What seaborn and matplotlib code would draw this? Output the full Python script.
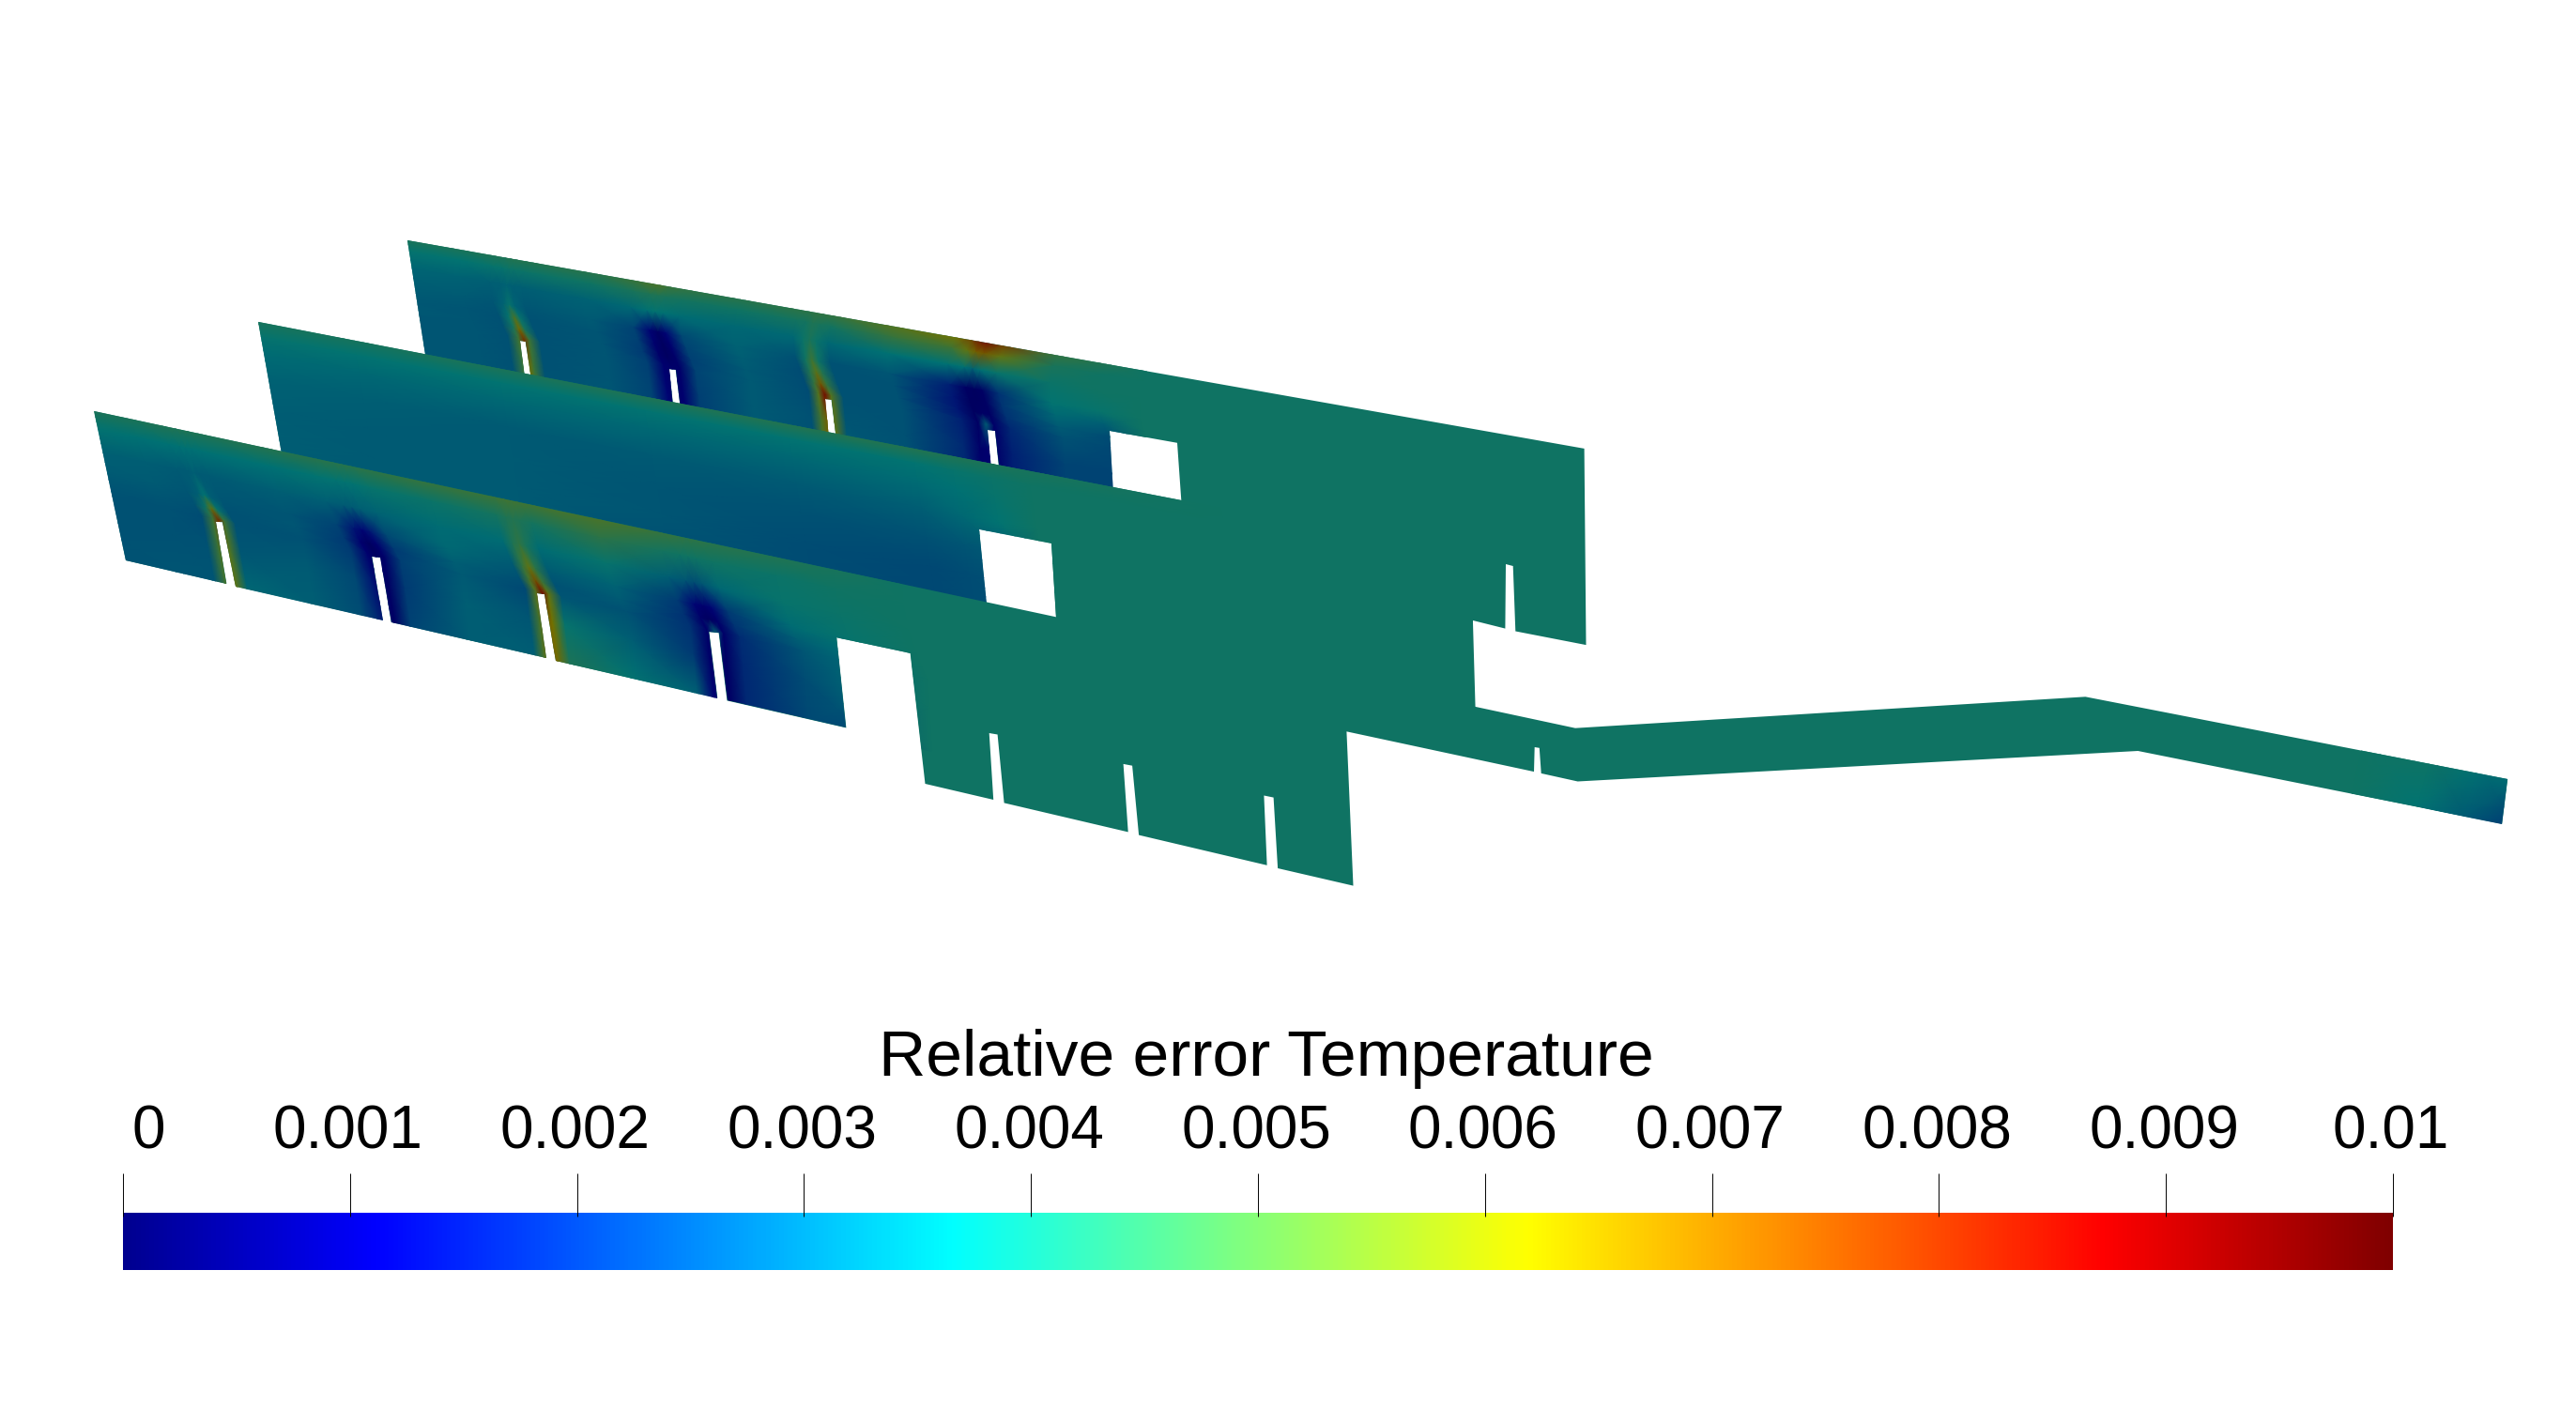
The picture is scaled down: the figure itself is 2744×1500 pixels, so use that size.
import numpy as np
import matplotlib
matplotlib.use("Agg")
import matplotlib.pyplot as plt
import seaborn as sns
from matplotlib.colors import LinearSegmentedColormap, Normalize
from matplotlib.path import Path

sns.set_theme(style="white")

W, H = 2744, 1500
VMIN, VMAX = 0.0, 0.01
BASE_VALUE = 0.0040
SHADE = 0.45

tick_values = [0, 0.001, 0.002, 0.003, 0.004, 0.005, 0.006, 0.007, 0.008, 0.009, 0.01]
tick_labels = ["0", "0.001", "0.002", "0.003", "0.004", "0.005", "0.006", "0.007", "0.008", "0.009", "0.01"]
bar_title = "Relative error Temperature"

# colour stops of the scale
stop_pos = [0, 0.111, 0.365, 0.492, 0.619, 0.873, 1]
stop_rgb = [(0, 0, 0.5625), (0, 0, 1), (0, 1, 1), (0.5, 1, 0.5), (1, 1, 0), (1, 0, 0), (0.5, 0, 0)]

# plate outlines, in picture pixels
front_outline = [(100.4, 438), (1678, 775.7), (2221.4, 742.3), (2671.2, 830), (2665.2, 877.7), (2277.4, 800),
                 (1680.6, 832.5), (1641.7, 823.9), (1639.8, 796.8), (1634.7, 796), (1634, 822.1), (1434.4, 779.3),
                 (1441.5, 943.6), (1361.1, 925), (1356.6, 849.6), (1346.4, 847.5), (1349.6, 921.8), (1213.1, 889.6),
                 (1206.1, 815.7), (1196.6, 813.9), (1201.7, 886.4), (1069.6, 855.4), (1062.6, 782.5), (1053.7, 781),
                 (1058.2, 852), (985.5, 835), (969.6, 695.7), (891.2, 679.3), (901.4, 775.4), (774.5, 746.4),
                 (765.6, 674.3), (755.4, 673.2), (764.3, 743.6), (592, 704), (580, 633.2), (571.7, 632), (581.9, 701),
                 (416.7, 662.9), (405.3, 593.9), (396.3, 592.9), (407.8, 660.7), (251, 624.6), (236.9, 556.4),
                 (229.9, 555.7), (241.4, 621.8), (134, 597)]
middle_outline = [(275.2, 342.9), (1569, 593), (1569, 663.6), (1571.6, 754), (1125.1, 659), (1120, 578.6),
                  (1042.9, 563.6), (1050.5, 643), (300, 483)]
back_outline = [(434, 256), (1687.6, 477.9), (1689.5, 687.1), (1614.3, 672.5), (1611.7, 603), (1604, 601),
                (1603.4, 669.6), (1569, 661), (1258.8, 540), (1254, 471.8), (1181.9, 458.9), (1185.5, 527),
                (1064.5, 503), (1060, 458.9), (1051.8, 457.9), (1055.6, 500), (891, 469), (885.5, 425.7),
                (878.5, 425), (883, 467), (725, 436), (719.7, 393.9), (712.7, 393.2), (717.4, 434),
                (566.3, 405), (559.6, 363.6), (553.9, 363.2), (559.4, 404), (454, 384)]

# corners of each value grid: top left, top right, bottom left, bottom right
front_quad = [(100, 438), (1000, 631), (134, 597), (1010, 801)]
middle_quad = [(275, 343), (1300, 541), (300, 500), (1325, 700)]
back_quad = [(434, 256), (1300, 409), (460, 406), (1306, 566)]

front_u = [-.05, .07, .108, .121, .128, .135, .148, .23, .287, .307, .317, .327, .347, .42, .497, .509, .517, .525,
           .54, .62, .695, .715, .725, .735, .755, .83, .90, .98]
front_v = [-.01, .12, .28, .42, .5, .57, .75, 1.02]
front_bend = [-.024, -.024, -.02, -.012, -.006, 0, 0, 0]
front_values = [
    [.0042, .0043, .0044, .0044, .0044, .0044, .0044, .0045, .0046, .0046, .0046, .0046, .0047, .0049, .0050, .0051, .0051, .0051, .0051, .0053, .0049, .0048, .0047, .0047, .0046, .0044, .0042, .0040],
    [.0038, .0036, .0036, .0036, .0036, .0036, .0036, .0036, .0037, .0037, .0037, .0037, .0038, .0039, .0041, .0043, .0044, .0043, .0041, .0046, .0041, .0040, .0040, .0040, .0040, .0039, .0040, .0040],
    [.0033, .0032, .0031, .0031, .0032, .0031, .0031, .0032, .0032, .0031, .0031, .0032, .0033, .0035, .0035, .0043, .0047, .0042, .0035, .0038, .0032, .0030, .0028, .0030, .0034, .0038, .0039, .0040],
    [.0031, .0031, .0030, .0032, .0037, .0032, .0030, .0030, .0026, .0016, .0012, .0016, .0027, .0034, .0031, .0048, .0058, .0046, .0031, .0033, .0024, .0012, .0010, .0012, .0024, .0035, .0038, .0040],
    [.0030, .0030, .0029, .0040, .0058, .0038, .0029, .0030, .0024, .0010, .0007, .0010, .0024, .0032, .0029, .0052, .0070, .0050, .0029, .0031, .0022, .0009, .0007, .0009, .0023, .0032, .0036, .0040],
    [.0029, .0029, .0028, .0050, .0078, .0050, .0029, .0029, .0024, .0010, .0007, .0009, .0025, .0031, .0027, .0055, .0085, .0058, .0030, .0029, .0022, .0009, .0032, .0009, .0021, .0030, .0035, .0040],
    [.0029, .0029, .0029, .0050, .0066, .0054, .0030, .0031, .0027, .0016, .0009, .0008, .0024, .0032, .0030, .0052, .0068, .0062, .0038, .0032, .0024, .0009, .0009, .0008, .0020, .0028, .0034, .0040],
    [.0029, .0030, .0030, .0050, .0062, .0056, .0034, .0032, .0028, .0020, .0014, .0008, .0026, .0032, .0032, .0054, .0068, .0064, .0043, .0037, .0033, .0012, .0010, .0008, .0020, .0027, .0027, .0040],
]

middle_u = [-.03, .1, .25, .4, .55, .68, .72, .76, .8, 1.0]
middle_v = [-.01, .1, .22, .4, .6, .8, 1.0]
middle_bend = [0, 0, 0, 0, 0, 0, 0]
middle_values = [
    [.0042, .0042, .0043, .0044, .0045, .0045, .0044, .0043, .0042, .0040],
    [.0038, .0037, .0037, .0037, .0037, .0037, .0038, .0039, .0040, .0040],
    [.0035, .0034, .0034, .0034, .0034, .0035, .0036, .0038, .0040, .0040],
    [.0033, .0032, .0031, .0031, .0031, .0032, .0034, .0037, .0040, .0040],
    [.0032, .0031, .0031, .0030, .0029, .0029, .0030, .0031, .0040, .0040],
    [.0032, .0031, .0031, .0030, .0028, .0027, .0028, .0029, .0040, .0040],
    [.0032, .0031, .0031, .0029, .0028, .0027, .0028, .0029, .0040, .0040],
]

back_u = [-.05, .07, .108, .121, .128, .135, .148, .23, .282, .302, .312, .322, .342, .41, .483, .495, .503, .511,
          .526, .60, .674, .694, .704, .714, .734, .80, .86, .91]
back_v = [-.01, .08, .2, .34, .42, .5, .57, .75, 1.0]
back_bend = [0, -.006, -.012, -.012, -.008, -.004, 0, 0, 0]
back_values = [
    [.0042, .0043, .0044, .0044, .0045, .0045, .0045, .0046, .0050, .0054, .0054, .0050, .0048, .0046, .0047, .0047, .0048, .0048, .0049, .0056, .0062, .0072, .0082, .0084, .0074, .0048, .0044, .0040],
    [.0038, .0037, .0038, .0038, .0039, .0039, .0039, .0040, .0042, .0043, .0043, .0042, .0041, .0040, .0041, .0041, .0043, .0042, .0041, .0048, .0050, .0058, .0066, .0068, .0058, .0042, .0040, .0040],
    [.0034, .0033, .0032, .0032, .0033, .0032, .0032, .0033, .0034, .0036, .0037, .0036, .0035, .0034, .0034, .0039, .0042, .0039, .0034, .0036, .0036, .0036, .0033, .0036, .0038, .0039, .0040, .0040],
    [.0032, .0031, .0030, .0033, .0038, .0033, .0030, .0031, .0026, .0012, .0008, .0012, .0027, .0033, .0029, .0040, .0050, .0040, .0029, .0030, .0018, .0008, .0007, .0008, .0022, .0037, .0038, .0040],
    [.0031, .0030, .0029, .0038, .0052, .0038, .0029, .0030, .0025, .0010, .0007, .0010, .0026, .0032, .0028, .0044, .0056, .0044, .0029, .0029, .0016, .0007, .0007, .0008, .0023, .0034, .0032, .0040],
    [.0031, .0030, .0029, .0042, .0064, .0042, .0029, .0030, .0024, .0009, .0007, .0009, .0025, .0031, .0028, .0048, .0068, .0048, .0029, .0029, .0016, .0007, .0008, .0008, .0022, .0031, .0028, .0040],
    [.0030, .0030, .0029, .0050, .0076, .0050, .0029, .0030, .0025, .0010, .0009, .0009, .0026, .0031, .0028, .0055, .0085, .0055, .0029, .0029, .0018, .0008, .0032, .0009, .0020, .0029, .0027, .0040],
    [.0030, .0030, .0029, .0048, .0064, .0050, .0029, .0030, .0026, .0012, .0009, .0010, .0025, .0031, .0029, .0052, .0066, .0058, .0030, .0029, .0020, .0009, .0010, .0009, .0018, .0026, .0026, .0040],
    [.0030, .0030, .0029, .0048, .0062, .0050, .0030, .0030, .0026, .0014, .0010, .0010, .0025, .0031, .0029, .0052, .0066, .0058, .0032, .0029, .0020, .0010, .0010, .0010, .0018, .0026, .0026, .0040],
]

# darker corner at the tip of the arm
tip_x = [[2520, 2590, 2640, 2690], [2505, 2575, 2625, 2685]]
tip_y = [[780, 803, 815, 826], [845, 859, 870, 885]]
tip_values = [[.0040, .0040, .0037, .0036], [.0040, .0037, .0031, .0022]]

jet_full = LinearSegmentedColormap.from_list("pv_jet", list(zip(stop_pos, stop_rgb)), N=512)
jet_lit = LinearSegmentedColormap.from_list(
    "pv_jet_lit", [(p, tuple(SHADE * c for c in rgb)) for p, rgb in zip(stop_pos, stop_rgb)], N=512)
norm = Normalize(VMIN, VMAX)


def grid_from_quad(quad, us, vs, bend):
    tl, tr, bl, br = np.array(quad, dtype=float)
    u = np.array(us)[None, :] + np.array(bend)[:, None]
    v = np.array(vs)[:, None]
    top = tl[:, None, None] * (1 - u) + tr[:, None, None] * u
    bottom = bl[:, None, None] * (1 - u) + br[:, None, None] * u
    pts = top * (1 - v) + bottom * v
    return pts[0], pts[1]


def draw_plate(ax, outline, quad, us, vs, bend, values, z):
    xs, ys = zip(*outline)
    ax.fill(xs, ys, color=jet_lit(norm(BASE_VALUE)), lw=0, zorder=z)
    X, Y = grid_from_quad(quad, us, vs, bend)
    mesh = ax.pcolormesh(X, Y, np.array(values), cmap=jet_lit, norm=norm, shading="gouraud", zorder=z + 0.5)
    mesh.set_clip_path(Path(list(outline) + [outline[0]], closed=True), ax.transData)
    return mesh


fig = plt.figure(figsize=(W / 100, H / 100), dpi=100, facecolor="white")

# colour bar
bar_left, bar_right, bar_top, bar_bottom = 131, 2549, 1292, 1353
cax = fig.add_axes([bar_left / W, 1 - bar_bottom / H, (bar_right - bar_left) / W, (bar_bottom - bar_top) / H])
gradient = np.linspace(VMIN, VMAX, 512)[None, :]
sns.heatmap(gradient, ax=cax, cmap=jet_full, vmin=VMIN, vmax=VMAX, cbar=False, xticklabels=False, yticklabels=False)

ax = fig.add_axes([0, 0, 1, 1])
ax.set_xlim(0, W)
ax.set_ylim(H, 0)
ax.axis("off")
ax.patch.set_alpha(0)

draw_plate(ax, back_outline, back_quad, back_u, back_v, back_bend, back_values, 1)
draw_plate(ax, middle_outline, middle_quad, middle_u, middle_v, middle_bend, middle_values, 2)
draw_plate(ax, front_outline, front_quad, front_u, front_v, front_bend, front_values, 3)
tip_mesh = ax.pcolormesh(np.array(tip_x), np.array(tip_y), np.array(tip_values), cmap=jet_lit, norm=norm,
                         shading="gouraud", zorder=3.6)
tip_mesh.set_clip_path(Path(front_outline + [front_outline[0]], closed=True), ax.transData)

digit_font = ["Liberation Sans Narrow", "Liberation Sans"]
for value, label in zip(tick_values, tick_labels):
    x = bar_left + (value - VMIN) / (VMAX - VMIN) * (bar_right - bar_left)
    ax.plot([x, x], [1250, 1296], color="black", lw=0.7, zorder=5, solid_capstyle="butt")
    offset = 27 if label == "0" else -2
    ax.text(x + offset, 1223, label, ha="center", va="baseline", fontsize=46, color="black", family=digit_font)

ax.text(1349, 1146, bar_title, ha="center", va="baseline", fontsize=50, color="black", family="Liberation Sans")

plt.savefig("out.png", dpi=100)
plt.close()
